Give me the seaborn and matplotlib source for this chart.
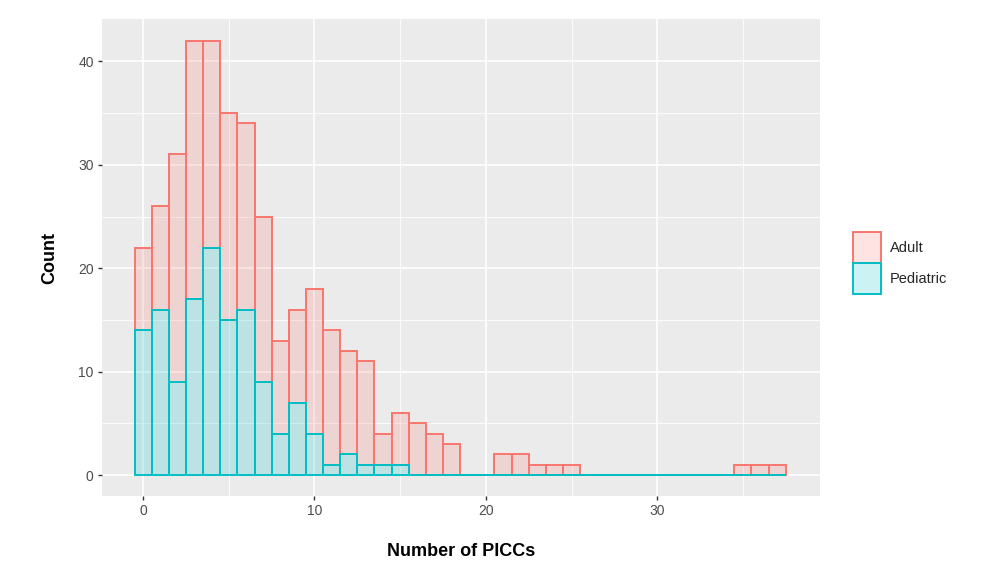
import numpy as np
import pandas as pd
import seaborn as sns
import matplotlib.pyplot as plt
from matplotlib.patches import Patch
from matplotlib.ticker import MultipleLocator

# counts per number of PICCs (bins of width 1, centred on 0..37)
piccs = list(range(38))
adult = [8, 10, 22, 25, 20, 20, 18, 16, 9, 9, 14, 13, 10, 10, 3, 5, 5, 4, 3, 0,
         0, 2, 2, 1, 1, 1, 0, 0, 0, 0, 0, 0, 0, 0, 0, 1, 1, 1]
pediatric = [14, 16, 9, 17, 22, 15, 16, 9, 4, 7, 4, 1, 2, 1, 1, 1, 0, 0, 0, 0,
             0, 0, 0, 0, 0, 0, 0, 0, 0, 0, 0, 0, 0, 0, 0, 0, 0, 0]
groups = ["Adult", "Pediatric"]
colors = {"Adult": "#F8766D", "Pediatric": "#00BFC4"}

df = pd.concat([
    pd.DataFrame({"picc": piccs, "n": adult, "group": "Adult"}),
    pd.DataFrame({"picc": piccs, "n": pediatric, "group": "Pediatric"}),
])

sns.set_style("darkgrid", {"axes.facecolor": "#EBEBEB", "grid.color": "white"})
plt.rcParams["font.family"] = ["Liberation Sans", "DejaVu Sans"]

fig = plt.figure(figsize=(9.84, 5.72), dpi=100)
ax = fig.add_axes([102 / 984, 1 - 496 / 572, 718 / 984, 477 / 572])

# stacked like ggplot: Pediatric at the bottom, Adult on top
sns.histplot(data=df, x="picc", weights="n", hue="group", hue_order=groups,
             discrete=True, multiple="stack", palette=colors, legend=False,
             linewidth=1.4, ax=ax)

# ggplot look: coloured outline, light fill
ped_rgb = plt.matplotlib.colors.to_rgb(colors["Pediatric"])
for p in ax.patches:
    fc = p.get_facecolor()
    p.set_edgecolor(fc[:3] + (1.0,))
    p.set_facecolor(fc[:3] + (0.2,))
    p.set_zorder(3 if np.allclose(fc[:3], ped_rgb, atol=0.05) else 2)

ax.set_xlim(-2.4, 39.5)
ax.set_ylim(-2.03, 44.1)
ax.xaxis.set_major_locator(MultipleLocator(10))
ax.xaxis.set_minor_locator(MultipleLocator(5))
ax.yaxis.set_major_locator(MultipleLocator(10))
ax.yaxis.set_minor_locator(MultipleLocator(5))
ax.grid(which="major", color="white", linewidth=1.2)
ax.grid(which="minor", color="white", linewidth=0.6)
ax.set_axisbelow(True)
for s in ax.spines.values():
    s.set_visible(False)
ax.tick_params(which="major", length=3, width=1, color="#333333",
               labelcolor="#4D4D4D", labelsize=10, bottom=True, left=True, pad=3)
ax.tick_params(which="minor", length=0)

ax.set_xlabel("Number of PICCs", fontsize=13, fontweight="bold", labelpad=18, color="black")
ax.set_ylabel("Count", fontsize=13, fontweight="bold", labelpad=14, color="black")

handles = [Patch(facecolor=plt.matplotlib.colors.to_rgba(colors[g], 0.2),
                 edgecolor=colors[g], linewidth=1.4, label=g) for g in groups]
fig.legend(handles=handles, loc="center left", bbox_to_anchor=(840 / 984, 1 - 263 / 572),
           frameon=False, fontsize=10.5, handlelength=1.9, handleheight=2.9,
           labelspacing=0.0, handletextpad=0.6)

fig.savefig("out.png", dpi=100, facecolor="white")
